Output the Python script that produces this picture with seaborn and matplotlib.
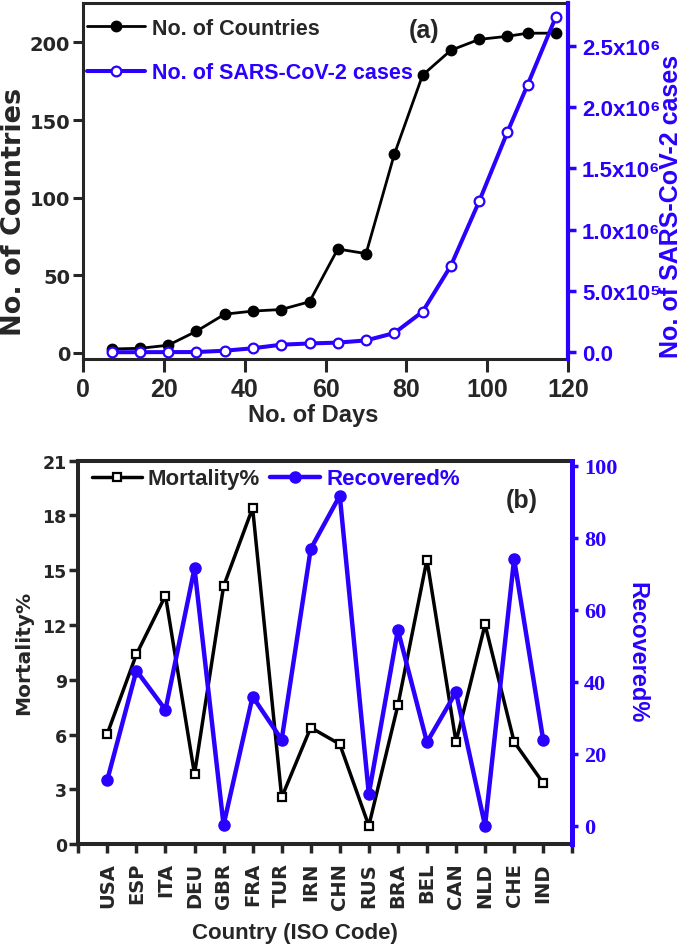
import numpy as np
import matplotlib
matplotlib.use("Agg")
import matplotlib.pyplot as plt
import seaborn as sns
from matplotlib.ticker import FuncFormatter, FixedLocator

# panel (a): spread over time
days = [7, 14, 21, 28, 35, 42, 49, 56, 63, 70, 77, 84, 91, 98, 105, 110, 117]
countries = [2.6, 3, 5, 14, 25, 27, 28, 33, 67, 64, 128, 179, 195, 202, 204, 206, 206]
cases = [500, 1000, 1500, 2000, 13000, 33000, 62000, 72000, 79000, 97000,
         157000, 331000, 706000, 1231000, 1796000, 2182000, 2736000]

# panel (b): per country
iso = ['USA', 'ESP', 'ITA', 'DEU', 'GBR', 'FRA', 'TUR', 'IRN',
       'CHN', 'RUS', 'BRA', 'BEL', 'CAN', 'NLD', 'CHE', 'IND']
mortality = [6.05, 10.39, 13.61, 3.83, 14.12, 18.41, 2.55, 6.38,
             5.47, 1.0, 7.6, 15.58, 5.6, 12.03, 5.6, 3.34]
recovered = [12.8, 43.1, 32.2, 71.5, 0.2, 35.9, 23.9, 76.9,
             91.7, 8.8, 54.4, 23.2, 37.1, 0.0, 74.1, 23.9]

BLUE = '#2a00ff'
SANS = ['Liberation Sans', 'DejaVu Sans']
NARROW = ['Liberation Sans Narrow', 'Liberation Sans', 'DejaVu Sans']
WIDE = ['DejaVu Sans']
SERIF = ['Liberation Serif', 'DejaVu Serif']
SUP = str.maketrans('0123456789', '⁰¹²³⁴⁵⁶⁷⁸⁹')

sns.set_style('ticks')
plt.rcParams['font.family'] = SANS
plt.rcParams['font.weight'] = 'bold'
plt.rcParams['axes.labelweight'] = 'bold'


def style_labels(labels, family, size, color=None):
    for lab in labels:
        lab.set_fontfamily(family)
        lab.set_fontweight('bold')
        lab.set_fontsize(size)
        if color:
            lab.set_color(color)


fig = plt.figure(figsize=(6.88, 9.45), dpi=100)

# ---------- (a) ----------
ax1 = fig.add_axes([0.1211, 0.6190, 0.7045, 0.3767])
sns.lineplot(x=days, y=countries, ax=ax1, color='black', linewidth=2,
             marker='o', markersize=7.5, markerfacecolor='black',
             markeredgecolor='black', markeredgewidth=1,
             label='No. of Countries', legend=False)
ax1b = ax1.twinx()
sns.lineplot(x=days, y=cases, ax=ax1b, color=BLUE, linewidth=2.9,
             marker='o', markersize=7, markerfacecolor='white',
             markeredgecolor=BLUE, markeredgewidth=1.6,
             label='No. of SARS-CoV-2 cases', legend=False)

ax1.set_xlim(0, 120)
ax1.set_xticks(range(0, 121, 20))
ax1.set_ylim(-3.9, 225.4)
ax1.set_yticks(range(0, 201, 50))
ax1b.set_ylim(-5.5e4, 2.848e6)
ax1b.set_yticks(np.arange(0, 2.6e6, 5e5))


def sci_fmt(v, pos):
    if v == 0:
        return '0.0'
    e = int(np.floor(np.log10(abs(v)) + 1e-9))
    return f'{v / 10**e:.1f}x10' + str(e).translate(SUP)


ax1b.yaxis.set_major_formatter(FuncFormatter(sci_fmt))

for s in ax1.spines.values():
    s.set_linewidth(2.2)
ax1.spines['right'].set_visible(False)
for k in ['left', 'top', 'bottom']:
    ax1b.spines[k].set_visible(False)
ax1b.spines['right'].set_color(BLUE)
ax1b.spines['right'].set_linewidth(3)

ax1.tick_params(axis='x', direction='out', length=9, width=2.2, pad=3.7)
ax1.tick_params(axis='y', direction='out', length=7, width=2.2, pad=2.4)
ax1b.tick_params(axis='y', direction='out', colors=BLUE, length=6, width=2.5, pad=4)
fig.canvas.draw()
style_labels(ax1.get_xticklabels(), NARROW, 18)
style_labels(ax1.get_yticklabels(), WIDE, 14)
style_labels(ax1b.get_yticklabels(), SANS, 16, BLUE)

ax1.set_xlabel('No. of Days', fontsize=17, fontweight='bold')
ax1.xaxis.set_label_coords(0.474, -0.157)
ax1.xaxis.label.set_va('center')
ax1.set_ylabel('No. of Countries', fontsize=19.5, fontfamily=WIDE, fontweight='bold')
ax1.yaxis.set_label_coords(-0.142, 0.4157)
ax1.yaxis.label.set_va('center')
ax1b.set_ylabel('No. of SARS-CoV-2 cases', fontsize=18, color=BLUE, fontweight='bold')
ax1b.yaxis.set_label_coords(1.2135, 0.4326)
ax1b.yaxis.label.set_va('center')

h1, l1 = ax1.get_legend_handles_labels()
h2, l2 = ax1b.get_legend_handles_labels()
leg = ax1b.legend(h1 + h2, l1 + l2, loc='upper left', bbox_to_anchor=(0.0076, 0.958),
                  frameon=False, prop={'family': SANS, 'weight': 'bold', 'size': 15.5},
                  handlelength=2.7, handletextpad=0.31, labelspacing=1.08,
                  borderpad=0, borderaxespad=0)
leg.get_texts()[1].set_color(BLUE)
ax1.text(0.703, 0.925, '(a)', transform=ax1.transAxes, fontsize=18,
         fontweight='bold', ha='center', va='center')

# ---------- (b) ----------
ax2 = fig.add_axes([0.1138, 0.1058, 0.7179, 0.4056])
sns.lineplot(x=iso, y=mortality, ax=ax2, color='black', linewidth=2.5, sort=False,
             marker='s', markersize=6, markerfacecolor='white',
             markeredgecolor='black', markeredgewidth=1.6,
             label='Mortality%', legend=False)
ax2b = ax2.twinx()
sns.lineplot(x=iso, y=recovered, ax=ax2b, color=BLUE, linewidth=3.2, sort=False,
             marker='o', markersize=8, markerfacecolor=BLUE,
             markeredgecolor=BLUE, markeredgewidth=1,
             label='Recovered%', legend=False)

ax2.set_xlim(-1, 16)
ax2.set_xticks(range(len(iso)))
ax2.set_xticklabels(iso, rotation=90)
ax2.xaxis.set_minor_locator(FixedLocator([-1, 16]))
ax2.set_ylim(0, 21)
ax2.set_yticks(range(0, 22, 3))
ax2b.set_ylim(-5.08, 101.4)
ax2b.set_yticks(range(0, 101, 20))

for s in ax2.spines.values():
    s.set_linewidth(2.9)
ax2.spines['right'].set_visible(False)
for k in ['left', 'top', 'bottom']:
    ax2b.spines[k].set_visible(False)
ax2b.spines['right'].set_color(BLUE)
ax2b.spines['right'].set_linewidth(3.6)

ax2.tick_params(axis='x', which='both', direction='out', length=6.2, width=2.5, pad=6.8)
ax2.tick_params(axis='y', direction='out', length=6.5, width=2.5, pad=1.8)
ax2b.tick_params(axis='y', direction='out', colors=BLUE, length=4.3, width=2.5, pad=4.3)
fig.canvas.draw()
style_labels(ax2.get_xticklabels(), WIDE, 14)
style_labels(ax2.get_yticklabels(), WIDE, 12.5)
style_labels(ax2b.get_yticklabels(), SERIF, 16, BLUE)

ax2.set_xlabel('Country (ISO Code)', fontsize=16, fontweight='bold')
ax2.xaxis.set_label_coords(0.4387, -0.2296)
ax2.xaxis.label.set_va('center')
ax2.set_ylabel('Mortality%', fontsize=14.5, fontfamily=WIDE, fontweight='bold')
ax2.yaxis.set_label_coords(-0.110, 0.501)
ax2.yaxis.label.set_va('center')
ax2b.set_ylabel('Recovered%', fontsize=17, color=BLUE, rotation=270, fontweight='bold')
ax2b.yaxis.set_label_coords(1.130, 0.502)
ax2b.yaxis.label.set_va('center')

h1, l1 = ax2.get_legend_handles_labels()
h2, l2 = ax2b.get_legend_handles_labels()
leg2 = ax2b.legend(h1 + h2, l1 + l2, loc='upper left', bbox_to_anchor=(0.027, 0.98),
                   ncol=2, frameon=False,
                   prop={'family': SANS, 'weight': 'bold', 'size': 16},
                   handlelength=2.25, handletextpad=0.28, columnspacing=0.44,
                   borderpad=0, borderaxespad=0)
leg2.get_texts()[1].set_color(BLUE)
ax2.text(0.898, 0.8975, '(b)', transform=ax2.transAxes, fontsize=18,
         fontweight='bold', ha='center', va='center')

fig.savefig('out.png', dpi=100)
